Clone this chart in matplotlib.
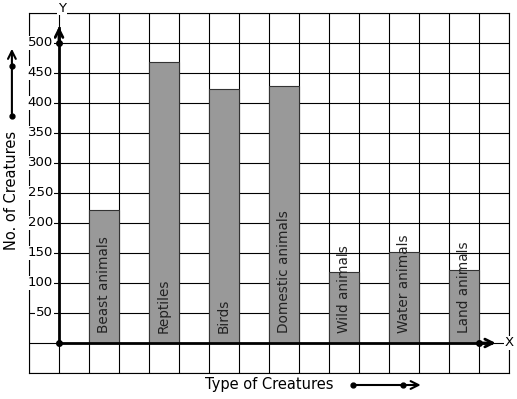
import matplotlib.pyplot as plt
import numpy as np

# data
creatures = ['Beast animals', 'Reptiles', 'Birds', 'Domestic animals',
             'Wild animals', 'Water animals', 'Land animals']
counts = [221, 468, 423, 428, 118, 152, 122]
yticks = [50, 100, 150, 200, 250, 300, 350, 400, 450, 500]

fig = plt.figure(figsize=(5.17, 3.99), dpi=100)
ax = fig.add_axes([29 / 517, 26 / 399, 480 / 517, 360 / 399])
ax.set_xlim(-1, 15)
ax.set_ylim(-50, 550)

# grid of squares
ax.set_xticks(np.arange(-1, 16, 1))
ax.set_yticks(np.arange(-50, 551, 50))
ax.grid(True, color='black', lw=0.8)
ax.tick_params(length=0, labelbottom=False, labelleft=False)
for s in ax.spines.values():
    s.set_linewidth(0.8)
ax.set_axisbelow(True)

# bars, one empty column between them
xpos = [1 + 2 * i for i in range(len(creatures))]
ax.bar(xpos, counts, width=1, align='edge', color='#999999',
       edgecolor='#333333', lw=0.8, zorder=3)
for x, name in zip(xpos, creatures):
    ax.text(x + 0.5, 17, name, rotation=90, ha='center', va='bottom',
            fontsize=9.8, color='#222222', zorder=4)

# axes lines
ax.plot([0, 0], [0, 525], color='black', lw=2, zorder=5, clip_on=False)
ax.annotate('', xy=(0, 532), xytext=(0, 500),
            arrowprops=dict(arrowstyle='->', lw=2, color='black',
                            mutation_scale=14), zorder=5)
ax.plot([0, 14.4], [0, 0], color='black', lw=2, zorder=5, clip_on=False)
ax.annotate('', xy=(14.65, 0), xytext=(14, 0),
            arrowprops=dict(arrowstyle='->', lw=2, color='black',
                            mutation_scale=14), zorder=5)
ax.plot([0, 0, 14], [0, 500, 0], 'o', color='black', ms=4, zorder=6,
        clip_on=False)

for v in yticks:
    ax.text(-0.2, v, str(v), ha='right', va='center', fontsize=9.5,
            zorder=6, bbox=dict(facecolor='white', edgecolor='none', pad=0.5))
ax.text(0.1, 558, 'Y', ha='center', va='center', fontsize=9.5,
        bbox=dict(facecolor='white', edgecolor='none', pad=0.5), clip_on=False)
ax.text(15.0, 0, 'X', ha='center', va='center', fontsize=9.5,
        bbox=dict(facecolor='white', edgecolor='none', pad=0.5), clip_on=False)

# axis titles with little arrows
ax.text(7.0, -70, 'Type of Creatures', ha='center', va='center',
        fontsize=10.5, clip_on=False)
ax.annotate('', xy=(12.15, -70), xytext=(9.8, -70), annotation_clip=False,
            arrowprops=dict(arrowstyle='->', lw=1.5, color='black',
                            mutation_scale=14))
ax.plot([9.8, 11.47], [-70, -70], 'o', color='black', ms=3.5, clip_on=False)

ax.text(-1.57, 255, 'No. of Creatures', rotation=90, ha='center', va='center',
        fontsize=10.5, clip_on=False)
ax.annotate('', xy=(-1.57, 495), xytext=(-1.57, 378), annotation_clip=False,
            arrowprops=dict(arrowstyle='->', lw=1.5, color='black',
                            mutation_scale=14))
ax.plot([-1.57, -1.57], [378, 462], 'o', color='black', ms=3.5, clip_on=False)

fig.savefig('out.png', dpi=100)
